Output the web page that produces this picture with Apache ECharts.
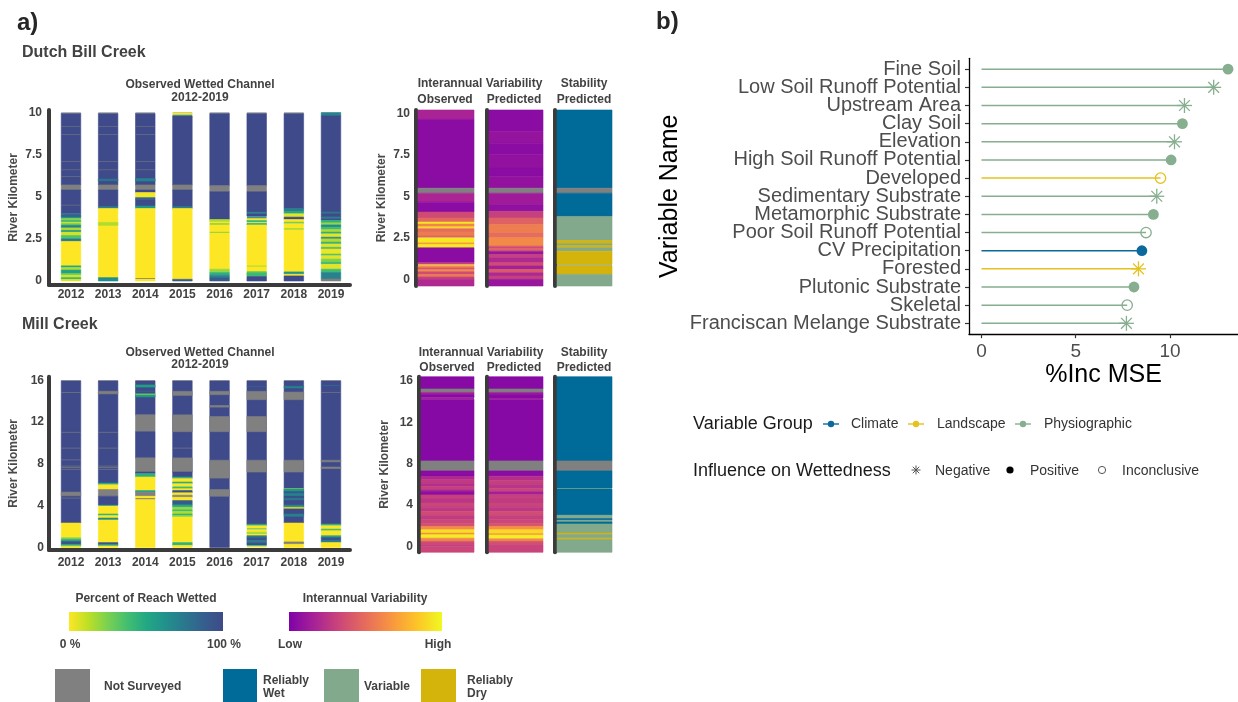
<!DOCTYPE html>
<html>
<head>
<meta charset="utf-8">
<script src="https://cdn.jsdelivr.net/npm/echarts@6/dist/echarts.min.js"></script>
<style>
  html, body { margin: 0; padding: 0; background: #ffffff; }
  #chart { width: 1238px; height: 702px; }
</style>
</head>
<body>
<div id="chart"></div>
<script>
// ---------------------------------------------------------------------------
// Survey years
const years = ['2012', '2013', '2014', '2015', '2016', '2017', '2018', '2019'];

// Observed wetted channel, Dutch Bill Creek: [from km, to km, percent of reach wetted]
// (null = not surveyed). Later rows are drawn over earlier ones.
const dbc2012 = [[5.70,9.95,100],[9.95,10.00,null],[9.17,9.20,null],[8.67,8.70,null],[7.08,7.11,null],[6.58,6.61,null],[6.18,6.21,null],[5.40,5.70,null],[4.00,5.40,100],[4.49,4.52,null],[3.90,4.00,75],[3.80,3.90,100],[3.70,3.80,60],[3.60,3.70,20],[3.50,3.60,45],[3.40,3.50,10],[3.30,3.40,30],[3.15,3.30,70],[3.00,3.15,15],[2.90,3.00,60],[2.70,2.90,8],[2.50,2.70,35],[2.35,2.50,75],[0.90,2.35,0],[0.80,0.90,50],[0.65,0.80,15],[0.45,0.65,55],[0.35,0.45,30],[0.20,0.35,8],[0.10,0.20,45],[0.00,0.10,5]];
const dbc2013 = [[5.70,9.95,100],[9.95,10.00,null],[9.17,9.20,null],[8.67,8.70,null],[7.08,7.11,null],[6.58,6.61,null],[5.95,6.05,75],[5.40,5.70,null],[4.40,5.40,100],[4.30,4.40,70],[0.20,4.30,0],[3.30,3.48,15],[0.00,0.20,65]];
const dbc2014 = [[5.70,9.95,100],[9.95,10.00,null],[9.17,9.20,null],[8.67,8.70,null],[7.08,7.11,null],[6.58,6.61,null],[5.93,6.08,70],[5.40,5.70,null],[5.25,5.40,100],[4.95,5.25,2],[4.85,4.95,80],[4.45,4.85,100],[4.30,4.45,60],[0.00,4.30,0],[0.12,0.17,null]];
const dbc2015 = [[9.97,10.00,null],[9.88,9.97,0],[9.80,9.88,30],[5.70,9.80,100],[5.40,5.70,null],[4.40,5.40,100],[4.30,4.40,70],[0.10,4.30,0],[0.00,0.10,90]];
const dbc2016 = [[5.65,9.95,100],[9.95,10.00,null],[5.30,5.65,null],[3.65,5.30,100],[3.50,3.65,15],[0.70,3.50,0],[3.35,3.42,30],[2.85,2.92,20],[0.50,0.70,20],[0.34,0.50,45],[0.20,0.34,70],[0.00,0.20,90]];
const dbc2017 = [[5.65,9.95,100],[9.95,10.00,null],[5.30,5.65,null],[4.09,5.30,100],[3.99,4.09,70],[3.85,3.99,100],[3.78,3.85,50],[3.70,3.78,95],[3.59,3.70,0],[3.49,3.59,40],[3.42,3.49,0],[3.33,3.42,50],[0.30,3.33,0],[0.85,0.92,15],[0.50,0.58,30],[0.30,0.50,40],[0.26,0.30,60],[0.00,0.26,100]];
const dbc2018 = [[4.29,9.95,100],[9.95,10.00,null],[4.13,4.29,70],[3.99,4.13,50],[3.79,3.99,5],[3.65,3.79,100],[3.49,3.65,0],[3.40,3.49,30],[0.54,3.40,0],[3.05,3.13,20],[0.40,0.54,60],[0.30,0.40,0],[0.00,0.30,100]];
const dbc2019 = [[9.80,10.00,70],[4.10,9.80,100],[4.00,4.10,75],[3.80,4.00,100],[3.70,3.80,70],[3.60,3.70,100],[3.45,3.60,45],[3.33,3.45,20],[3.19,3.33,65],[3.05,3.19,40],[2.90,3.05,15],[2.80,2.90,50],[2.60,2.80,5],[2.50,2.60,70],[2.30,2.50,15],[2.20,2.30,50],[2.00,2.20,5],[1.90,2.00,40],[1.60,1.90,3],[1.50,1.60,35],[1.30,1.50,5],[1.10,1.30,25],[1.00,1.10,45],[0.70,1.00,5],[0.50,0.70,40],[0.12,0.50,70],[0.00,0.12,null]];

// Observed wetted channel, Mill Creek
const mc2012 = [[2.34,15.95,100],[15.95,16.00,null],[14.78,14.84,null],[11.00,11.06,null],[9.48,9.54,null],[8.35,8.41,null],[7.76,7.82,null],[7.61,7.67,null],[7.46,7.52,null],[4.95,5.30,null],[4.70,4.76,null],[0.95,2.34,0],[0.80,0.95,20],[0.60,0.80,45],[0.30,0.60,95],[0.15,0.30,55],[0.00,0.15,5]];
const mc2013 = [[6.16,15.95,100],[15.95,16.00,null],[14.70,14.95,null],[11.00,11.06,null],[9.48,9.54,null],[7.76,7.82,null],[7.61,7.67,null],[7.46,7.52,null],[6.00,6.16,50],[5.55,6.00,0],[4.90,5.55,null],[4.07,4.90,100],[3.95,4.07,55],[3.20,3.95,0],[3.05,3.20,45],[2.82,3.05,0],[2.63,2.82,65],[0.47,2.63,0],[0.30,0.47,95],[0.15,0.30,60],[0.00,0.15,0]];
const mc2014 = [[12.69,15.95,100],[15.95,16.00,null],[15.35,15.55,55],[14.90,15.00,85],[14.55,14.70,30],[14.40,14.55,60],[11.08,12.69,null],[8.57,11.08,100],[7.22,8.57,null],[7.06,7.22,100],[6.74,7.06,45],[5.45,6.74,0],[5.30,5.45,50],[4.90,5.30,null],[0.00,4.90,0],[4.62,4.72,null]];
const mc2015 = [[7.22,15.95,100],[15.95,16.00,null],[14.55,14.94,null],[11.08,12.69,null],[9.48,9.54,null],[7.22,8.57,null],[6.74,7.22,100],[6.58,6.74,45],[6.26,6.58,0],[6.10,6.26,50],[5.80,6.10,0],[5.62,5.80,40],[5.45,5.62,0],[5.23,5.45,95],[5.00,5.23,0],[4.81,5.00,null],[4.49,4.81,0],[4.07,4.49,90],[3.85,4.07,50],[3.60,3.85,20],[3.45,3.60,40],[3.20,3.45,15],[3.05,3.20,45],[2.90,3.05,20],[0.47,2.90,0],[0.20,0.47,45],[0.00,0.20,0]];
const mc2016 = [[0.00,15.95,100],[15.95,16.00,null],[14.62,14.94,null],[13.43,13.59,null],[11.08,12.53,null],[6.64,8.35,null],[4.90,5.55,null]];
const mc2017 = [[2.24,15.95,100],[15.95,16.00,null],[15.38,15.45,85],[14.14,14.94,null],[11.08,12.53,null],[7.22,8.35,null],[2.08,2.24,55],[1.82,2.08,0],[1.70,1.82,45],[1.45,1.70,0],[1.28,1.45,20],[1.13,1.28,0],[0.96,1.13,70],[0.64,0.96,95],[0.47,0.64,70],[0.22,0.47,95],[0.10,0.22,40],[0.00,0.10,0]];
const mc2018 = [[2.34,15.95,100],[15.95,16.00,null],[15.26,15.42,70],[14.14,14.87,null],[7.22,8.35,null],[5.55,5.68,30],[5.35,5.55,60],[5.16,5.35,90],[4.90,5.16,70],[4.72,4.90,100],[4.49,4.72,75],[4.07,4.49,100],[3.85,4.07,70],[3.69,3.85,5],[3.20,3.69,100],[2.98,3.20,70],[0.00,2.34,0],[0.37,0.53,null]];
const mc2019 = [[2.24,15.95,100],[15.95,16.00,null],[15.45,15.55,85],[14.82,14.88,null],[8.19,8.35,null],[7.55,7.70,null],[2.08,2.24,45],[1.76,2.08,0],[1.60,1.76,40],[1.13,1.60,0],[0.96,1.13,50],[0.64,0.96,95],[0.47,0.64,70],[0.00,0.47,0]];

// Interannual variability (0 = low, 1 = high): [from km, to km, variability]
const dbcVarObserved = [[9.64,10.20,0.17],[5.49,9.64,0.05],[5.19,5.49,null],[4.65,5.19,0.18],[4.05,4.65,0.05],[3.69,4.05,0.35],[3.45,3.69,0.48],[3.33,3.45,0.95],[3.17,3.33,0.60],[3.05,3.17,0.90],[2.85,3.05,0.50],[2.60,2.85,0.56],[2.50,2.60,0.40],[2.20,2.50,0.95],[2.10,2.20,0.70],[1.90,2.10,0.95],[1.00,1.90,0.05],[0.90,1.00,0.30],[0.82,0.90,0.95],[0.70,0.82,0.62],[0.58,0.70,0.40],[0.46,0.58,0.62],[0.30,0.46,0.35],[0.14,0.30,0.55],[0.00,0.14,0.30],[-0.40,0.00,0.20]];
const dbcVarPredicted = [[8.90,10.20,0.05],[8.20,8.90,0.09],[7.50,8.20,0.05],[6.70,7.50,0.08],[6.20,6.70,0.05],[5.49,6.20,0.08],[5.19,5.49,null],[4.50,5.19,0.13],[4.10,4.50,0.07],[3.70,4.10,0.30],[3.30,3.70,0.45],[2.80,3.30,0.57],[2.50,2.80,0.50],[2.00,2.50,0.62],[1.85,2.00,0.35],[1.70,1.85,0.47],[1.50,1.70,0.10],[1.30,1.50,0.30],[1.00,1.30,0.20],[0.80,1.00,0.35],[0.60,0.80,0.15],[0.40,0.60,0.42],[0.20,0.40,0.20],[0.00,0.20,0.30],[-0.40,0.00,0.10]];
const millVarObserved = [[15.23,16.42,0.04],[14.90,15.23,null],[14.70,14.90,0.15],[14.38,14.70,0.04],[14.25,14.38,0.20],[8.28,14.25,0.03],[7.31,8.28,null],[6.77,7.31,0.05],[6.45,6.77,0.20],[6.10,6.45,0.28],[5.80,6.10,0.22],[5.50,5.80,0.30],[5.32,5.50,0.20],[4.99,5.32,0.06],[4.60,4.99,0.30],[4.20,4.60,0.25],[3.80,4.20,0.33],[3.40,3.80,0.27],[3.00,3.40,0.35],[2.60,3.00,0.28],[2.20,2.60,0.33],[1.94,2.20,0.38],[1.62,1.94,0.62],[1.30,1.62,0.92],[1.13,1.30,0.65],[0.81,1.13,0.97],[0.49,0.81,0.60],[0.20,0.49,0.35],[0.01,0.20,0.30],[-0.56,0.01,0.33]];
const millVarPredicted = [[15.23,16.42,0.04],[14.90,15.23,null],[14.70,14.90,0.12],[14.35,14.70,0.04],[14.22,14.35,0.16],[8.28,14.22,0.03],[7.31,8.28,null],[6.80,7.31,0.05],[6.40,6.80,0.22],[6.00,6.40,0.30],[5.60,6.00,0.25],[5.30,5.60,0.32],[5.00,5.30,0.15],[4.60,5.00,0.30],[4.20,4.60,0.28],[3.80,4.20,0.32],[3.40,3.80,0.26],[3.00,3.40,0.36],[2.60,3.00,0.30],[2.20,2.60,0.33],[1.94,2.20,0.40],[1.62,1.94,0.65],[1.25,1.62,0.90],[1.10,1.25,0.70],[0.75,1.10,0.97],[0.50,0.75,0.62],[0.20,0.50,0.38],[-0.56,0.20,0.32]];

// Predicted stability class: W = reliably wet, V = variable, D = reliably dry
const dbcStability = [[5.49,10.20,'W'],[5.19,5.49,null],[3.79,5.19,'W'],[2.34,3.79,'V'],[2.15,2.34,'D'],[2.04,2.15,'V'],[1.90,2.04,'D'],[1.70,1.90,'V'],[0.90,1.70,'D'],[0.82,0.90,'V'],[0.30,0.82,'D'],[-0.40,0.30,'V']];
const millStability = [[8.28,16.42,'W'],[7.31,8.28,null],[5.65,7.31,'W'],[5.55,5.65,'V'],[3.02,5.55,'W'],[2.70,3.02,'V'],[2.54,2.70,'W'],[2.37,2.54,'V'],[2.18,2.37,'W'],[1.31,2.18,'V'],[1.16,1.31,'D'],[0.83,1.16,'V'],[0.67,0.83,'D'],[-0.56,0.67,'V']];

// Variable importance (random forest)
const varNames = ['Fine Soil', 'Low Soil Runoff Potential', 'Upstream Area', 'Clay Soil', 'Elevation', 'High Soil Runoff Potential', 'Developed', 'Sedimentary Substrate', 'Metamorphic Substrate', 'Poor Soil Runoff Potential', 'CV Precipitation', 'Forested', 'Plutonic Substrate', 'Skeletal', 'Franciscan Melange Substrate'];
const incMSE = [13.08, 12.32, 10.77, 10.66, 10.24, 10.06, 9.50, 9.30, 9.12, 8.73, 8.51, 8.33, 8.09, 7.73, 7.69];
const varGroup = ['Physiographic', 'Physiographic', 'Physiographic', 'Physiographic', 'Physiographic', 'Physiographic', 'Landscape', 'Physiographic', 'Physiographic', 'Physiographic', 'Climate', 'Landscape', 'Physiographic', 'Physiographic', 'Physiographic'];
const influence = ['Positive', 'Negative', 'Negative', 'Positive', 'Negative', 'Positive', 'Inconclusive', 'Negative', 'Positive', 'Inconclusive', 'Positive', 'Negative', 'Positive', 'Inconclusive', 'Negative'];

// Tick labels
const dbcKmTicks = [0, 2.5, 5, 7.5, 10];
const millKmTicks = [0, 4, 8, 12, 16];
const mseTicks = [0, 5, 10];

// ---------------------------------------------------------------------------
// Styling
const FONT = '"Liberation Sans", Arial, Helvetica, sans-serif';
const TEXT_A = '#424242';
const AXIS_DARK = '#3b3b3b';
const GRAY = '#808080';
const WETTED_COLORS = ['#fde725', '#bddf26', '#7ad151', '#44bf70', '#22a884', '#21918c', '#2a788e', '#355f8d', '#3e4a89'];
const VAR_COLORS = ['#7e03a8', '#a82296', '#cc4778', '#e66c5c', '#f89540', '#fdc328', '#f0f921'];
const STAB_CODES = { W: 0, V: 1, D: 2 };
const STAB_COLORS = ['#006a98', '#82a98c', '#d4b30b'];
const GROUP_COLORS = { Climate: '#0b6a9b', Landscape: '#e5c21f', Physiographic: '#86ae8f' };

// ---------------------------------------------------------------------------
// Build series data
function barData(yearLists) {
  const out = [];
  yearLists.forEach((segs, i) => segs.forEach(s => out.push([i, s[0], s[1], s[2] === null ? -1 : s[2]])));
  return out;
}
function columnData(segs) {
  return segs.map(s => [0.5, s[0], s[1], s[2] === null ? -1 : s[2]]);
}
function stabilityData(segs) {
  return segs.map(s => [0.5, s[0], s[1], s[2] === null ? -1 : STAB_CODES[s[2]]]);
}

function stripeRenderer(halfWidth, categorical) {
  return function (params, api) {
    const x = api.value(0), from = api.value(1), to = api.value(2), v = api.value(3);
    const p0 = api.coord([x - halfWidth, to]);
    const p1 = api.coord([x + halfWidth, from]);
    const h = p1[1] - p0[1];
    let fill;
    if (v < 0) fill = GRAY;
    else if (categorical) fill = STAB_COLORS[v];
    else fill = api.visual('color');
    return {
      type: 'rect',
      shape: { x: p0[0], y: p0[1], width: p1[0] - p0[0], height: h },
      style: { fill: fill, stroke: h > 1.5 ? fill : null, lineWidth: 0.6 }
    };
  };
}

function lollipopRenderer(params, api) {
  const idx = params.dataIndex;
  const v = api.value(0), row = api.value(1);
  const c = GROUP_COLORS[varGroup[idx]];
  const p0 = api.coord([0, row]);
  const p1 = api.coord([v, row]);
  const children = [{
    type: 'line',
    shape: { x1: p0[0], y1: p0[1], x2: p1[0], y2: p1[1] },
    style: { stroke: c, lineWidth: 1.5 }
  }];
  const kind = influence[idx];
  if (kind === 'Positive') {
    children.push({ type: 'circle', shape: { cx: p1[0], cy: p1[1], r: 5.4 }, style: { fill: c } });
  } else if (kind === 'Inconclusive') {
    children.push({ type: 'circle', shape: { cx: p1[0], cy: p1[1], r: 5.2 }, style: { fill: 'none', stroke: c, lineWidth: 1.3 } });
  } else {
    const r = 7.5, d = r * 0.72;
    [[-r, 0, r, 0], [0, -r, 0, r], [-d, -d, d, d], [-d, d, d, -d]].forEach(s => {
      children.push({
        type: 'line',
        shape: { x1: p1[0] + s[0], y1: p1[1] + s[1], x2: p1[0] + s[2], y2: p1[1] + s[3] },
        style: { stroke: c, lineWidth: 1.3 }
      });
    });
  }
  return { type: 'group', children: children };
}

// ---------------------------------------------------------------------------
// Axes helpers
function yearAxis(gridIndex, labelMargin) {
  return {
    type: 'value', gridIndex: gridIndex, min: -0.592, max: 7.512,
    axisLine: { onZero: false, lineStyle: { color: AXIS_DARK, width: 4 } },
    axisTick: { show: false }, splitLine: { show: false },
    axisLabel: {
      customValues: years.map((y, i) => i),
      formatter: v => years[Math.round(v)],
      showMinLabel: true, showMaxLabel: true,
      fontFamily: FONT, fontWeight: 'bold', fontSize: 12, color: TEXT_A, margin: labelMargin
    }
  };
}
function hiddenAxis(gridIndex) {
  return { type: 'value', gridIndex: gridIndex, min: 0, max: 1, show: false };
}
function kmAxis(gridIndex, min, max, ticks, opts) {
  return {
    type: 'value', gridIndex: gridIndex, min: min, max: max,
    offset: opts.offset || 0,
    axisLine: { onZero: false, lineStyle: { color: AXIS_DARK, width: 4 } },
    axisTick: { show: false }, splitLine: { show: false },
    axisLabel: {
      show: !!opts.labels, customValues: ticks,
      showMinLabel: true, showMaxLabel: true,
      fontFamily: FONT, fontWeight: 'bold', fontSize: 12, color: TEXT_A, margin: opts.margin || 6
    },
    name: opts.labels ? 'River Kilometer' : '',
    nameLocation: 'middle', nameRotate: 90, nameGap: opts.nameGap || 28,
    nameTextStyle: { fontFamily: FONT, fontWeight: 'bold', fontSize: 12, color: '#4a4a4a' }
  };
}
// Variable-name axis: the rows sit closer than the label height, so even and
// odd rows are labelled by two coincident axes to keep every name visible.
const rowIdx = varNames.map((n, i) => i);
function nameAxis(parity, withLine) {
  return {
    type: 'value', gridIndex: 8, position: 'left', min: -0.6, max: 14.6, inverse: true,
    axisLine: { show: withLine, onZero: false, lineStyle: { color: '#000000', width: 1.3 } },
    axisTick: { show: withLine, customValues: rowIdx, length: 4, lineStyle: { color: '#333333', width: 1.2 } },
    axisLabel: {
      customValues: rowIdx.filter(i => i % 2 === parity),
      formatter: v => varNames[Math.round(v)],
      showMinLabel: true, showMaxLabel: true,
      fontFamily: FONT, fontSize: 20, color: '#4d4d4d', margin: 8
    },
    splitLine: { show: false },
    name: withLine ? 'Variable Name' : '', nameLocation: 'middle', nameRotate: 90, nameGap: 286,
    nameTextStyle: { fontFamily: FONT, fontSize: 25, color: '#000000' }
  };
}

// ---------------------------------------------------------------------------
// Graphic helpers (headings and legends)
function label(x, y, text, size, weight, align, color) {
  return {
    type: 'text', x: x, y: y, silent: true,
    style: {
      text: text, fontSize: size, fontWeight: weight || 'normal', fontFamily: FONT,
      fill: color || TEXT_A, align: align || 'center', verticalAlign: 'middle'
    }
  };
}
function gradientBar(x, y, w, h, colors) {
  return {
    type: 'rect', silent: true, shape: { x: x, y: y, width: w, height: h },
    style: {
      fill: new echarts.graphic.LinearGradient(0, 0, 1, 0,
        colors.map((c, i) => ({ offset: i / (colors.length - 1), color: c })))
    }
  };
}
function swatch(x, y, w, h, color) {
  return { type: 'rect', silent: true, shape: { x: x, y: y, width: w, height: h }, style: { fill: color } };
}
function keyLineDot(cx, cy, color) {
  return [
    { type: 'line', silent: true, shape: { x1: cx - 8, y1: cy, x2: cx + 8, y2: cy }, style: { stroke: color, lineWidth: 1.4 } },
    { type: 'circle', silent: true, shape: { cx: cx, cy: cy, r: 3.2 }, style: { fill: color } }
  ];
}
function keyAsterisk(cx, cy, color) {
  const r = 4.5, d = r * 0.72;
  return [[-r, 0, r, 0], [0, -r, 0, r], [-d, -d, d, d], [-d, d, d, -d]].map(s => ({
    type: 'line', silent: true,
    shape: { x1: cx + s[0], y1: cy + s[1], x2: cx + s[2], y2: cy + s[3] },
    style: { stroke: color, lineWidth: 1 }
  }));
}

const graphics = [
  label(17, 23, 'a)', 24, 'bold', 'left', '#262626'),
  label(656, 22, 'b)', 24, 'bold', 'left', '#262626'),
  label(22, 53, 'Dutch Bill Creek', 16, 'bold', 'left'),
  label(22, 325, 'Mill Creek', 16, 'bold', 'left'),
  label(200, 85, 'Observed Wetted Channel', 12, 'bold'),
  label(200, 98, '2012-2019', 12, 'bold'),
  label(200, 353, 'Observed Wetted Channel', 12, 'bold'),
  label(200, 365, '2012-2019', 12, 'bold'),
  label(480, 84, 'Interannual Variability', 12, 'bold'),
  label(445, 100, 'Observed', 12, 'bold'),
  label(514, 100, 'Predicted', 12, 'bold'),
  label(584, 84, 'Stability', 12, 'bold'),
  label(584, 100, 'Predicted', 12, 'bold'),
  label(481, 353, 'Interannual Variability', 12, 'bold'),
  label(447, 368, 'Observed', 12, 'bold'),
  label(514, 368, 'Predicted', 12, 'bold'),
  label(584, 353, 'Stability', 12, 'bold'),
  label(584, 368, 'Predicted', 12, 'bold'),

  // colour scales
  label(146, 599, 'Percent of Reach Wetted', 12, 'bold'),
  gradientBar(69, 612, 154, 19, WETTED_COLORS),
  label(70, 645, '0 %', 12, 'bold'),
  label(224, 645, '100 %', 12, 'bold'),
  label(365, 599, 'Interannual Variability', 12, 'bold'),
  gradientBar(289, 612, 153, 19, VAR_COLORS),
  label(290, 645, 'Low', 12, 'bold'),
  label(438, 645, 'High', 12, 'bold'),

  // class swatches
  swatch(55, 669, 35, 40, GRAY),
  label(104, 687, 'Not Surveyed', 12, 'bold', 'left'),
  swatch(223, 669, 34, 40, STAB_COLORS[0]),
  label(263, 681, 'Reliably', 12, 'bold', 'left'),
  label(263, 694, 'Wet', 12, 'bold', 'left'),
  swatch(324, 669, 35, 40, STAB_COLORS[1]),
  label(364, 687, 'Variable', 12, 'bold', 'left'),
  swatch(421, 669, 35, 40, STAB_COLORS[2]),
  label(467, 681, 'Reliably', 12, 'bold', 'left'),
  label(467, 694, 'Dry', 12, 'bold', 'left'),

  // legend for panel b
  label(693, 424, 'Variable Group', 18, 'normal', 'left', '#1a1a1a'),
  ...keyLineDot(831, 424, GROUP_COLORS.Climate),
  label(851, 424, 'Climate', 14, 'normal', 'left', '#333333'),
  ...keyLineDot(916, 424, GROUP_COLORS.Landscape),
  label(937, 424, 'Landscape', 14, 'normal', 'left', '#333333'),
  ...keyLineDot(1023, 424, GROUP_COLORS.Physiographic),
  label(1044, 424, 'Physiographic', 14, 'normal', 'left', '#333333'),
  label(693, 471, 'Influence on Wettedness', 18, 'normal', 'left', '#1a1a1a'),
  ...keyAsterisk(916, 470, '#555555'),
  label(935, 471, 'Negative', 14, 'normal', 'left', '#333333'),
  { type: 'circle', silent: true, shape: { cx: 1010, cy: 470, r: 3.6 }, style: { fill: '#000000' } },
  label(1030, 471, 'Positive', 14, 'normal', 'left', '#333333'),
  { type: 'circle', silent: true, shape: { cx: 1102, cy: 470, r: 3.6 }, style: { fill: 'none', stroke: '#555555', lineWidth: 1 } },
  label(1122, 471, 'Inconclusive', 14, 'normal', 'left', '#333333')
];

// ---------------------------------------------------------------------------
const option = {
  animation: false,
  backgroundColor: '#ffffff',
  textStyle: { fontFamily: FONT },
  grid: [
    { left: 49, top: 110, width: 301, height: 175 },     // 0 Dutch Bill wetted
    { left: 49, top: 376.7, width: 301, height: 173.3 }, // 1 Mill wetted
    { left: 418, top: 110, width: 56, height: 176 },     // 2 Dutch obs variability
    { left: 489, top: 110, width: 54, height: 176 },     // 3 Dutch pred variability
    { left: 557, top: 110, width: 55, height: 176 },     // 4 Dutch stability
    { left: 421, top: 376.7, width: 53, height: 175.6 }, // 5 Mill obs variability
    { left: 489, top: 376.7, width: 54, height: 175.6 }, // 6 Mill pred variability
    { left: 557, top: 376.7, width: 55, height: 175.6 }, // 7 Mill stability
    { left: 969, top: 58.3, width: 269, height: 275.9 }  // 8 variable importance
  ],
  xAxis: [
    yearAxis(0, 4),
    yearAxis(1, 7),
    hiddenAxis(2), hiddenAxis(3), hiddenAxis(4),
    hiddenAxis(5), hiddenAxis(6), hiddenAxis(7),
    {
      type: 'value', gridIndex: 8, min: -0.663, max: 13.61,
      axisLine: { onZero: false, lineStyle: { color: '#000000', width: 1.3 } },
      axisTick: { customValues: mseTicks, length: 4, lineStyle: { color: '#333333', width: 1.2 } },
      axisLabel: { customValues: mseTicks, showMinLabel: true, showMaxLabel: true, fontFamily: FONT, fontSize: 19, color: '#4d4d4d', margin: 8 },
      splitLine: { show: false },
      name: '%Inc MSE', nameLocation: 'middle', nameGap: 28,
      nameTextStyle: { fontFamily: FONT, fontSize: 25, color: '#000000' }
    }
  ],
  yAxis: [
    kmAxis(0, -0.237, 10.148, dbcKmTicks, { labels: true, margin: 7, nameGap: 29 }),
    kmAxis(1, -0.24, 16.34, millKmTicks, { labels: true, margin: 5, nameGap: 29 }),
    kmAxis(2, -0.4, 10.2, dbcKmTicks, { labels: true, offset: 2, margin: 6, nameGap: 28 }),
    kmAxis(3, -0.4, 10.2, dbcKmTicks, { offset: 2 }),
    kmAxis(4, -0.4, 10.2, dbcKmTicks, { offset: 2 }),
    kmAxis(5, -0.56, 16.42, millKmTicks, { labels: true, offset: 2, margin: 6, nameGap: 28 }),
    kmAxis(6, -0.56, 16.42, millKmTicks, { offset: 2 }),
    kmAxis(7, -0.56, 16.42, millKmTicks, { offset: 2 }),
    nameAxis(0, true),
    nameAxis(1, false)
  ],
  visualMap: [
    { type: 'continuous', show: false, seriesIndex: [0, 1], dimension: 3, min: 0, max: 100, inRange: { color: WETTED_COLORS } },
    { type: 'continuous', show: false, seriesIndex: [2, 3, 5, 6], dimension: 3, min: 0, max: 1, inRange: { color: VAR_COLORS } }
  ],
  series: [
    { name: 'Dutch Bill wetted', type: 'custom', xAxisIndex: 0, yAxisIndex: 0, renderItem: stripeRenderer(0.263, false),
      data: barData([dbc2012, dbc2013, dbc2014, dbc2015, dbc2016, dbc2017, dbc2018, dbc2019]), encode: { x: 0, y: 1 } },
    { name: 'Mill wetted', type: 'custom', xAxisIndex: 1, yAxisIndex: 1, renderItem: stripeRenderer(0.263, false),
      data: barData([mc2012, mc2013, mc2014, mc2015, mc2016, mc2017, mc2018, mc2019]), encode: { x: 0, y: 1 } },
    { name: 'Dutch Bill observed variability', type: 'custom', xAxisIndex: 2, yAxisIndex: 2, renderItem: stripeRenderer(0.5, false),
      data: columnData(dbcVarObserved), encode: { x: 0, y: 1 } },
    { name: 'Dutch Bill predicted variability', type: 'custom', xAxisIndex: 3, yAxisIndex: 3, renderItem: stripeRenderer(0.5, false),
      data: columnData(dbcVarPredicted), encode: { x: 0, y: 1 } },
    { name: 'Dutch Bill stability', type: 'custom', xAxisIndex: 4, yAxisIndex: 4, renderItem: stripeRenderer(0.5, true),
      data: stabilityData(dbcStability), encode: { x: 0, y: 1 } },
    { name: 'Mill observed variability', type: 'custom', xAxisIndex: 5, yAxisIndex: 5, renderItem: stripeRenderer(0.5, false),
      data: columnData(millVarObserved), encode: { x: 0, y: 1 } },
    { name: 'Mill predicted variability', type: 'custom', xAxisIndex: 6, yAxisIndex: 6, renderItem: stripeRenderer(0.5, false),
      data: columnData(millVarPredicted), encode: { x: 0, y: 1 } },
    { name: 'Mill stability', type: 'custom', xAxisIndex: 7, yAxisIndex: 7, renderItem: stripeRenderer(0.5, true),
      data: stabilityData(millStability), encode: { x: 0, y: 1 } },
    { name: 'Variable importance', type: 'custom', xAxisIndex: 8, yAxisIndex: 8, renderItem: lollipopRenderer,
      data: incMSE.map((v, i) => [v, i]), encode: { x: 0, y: 1 }, clip: false }
  ],
  graphic: graphics
};

const chart = echarts.init(document.getElementById('chart'), null, { renderer: 'canvas' });
chart.setOption(option);
</script>
</body>
</html>
